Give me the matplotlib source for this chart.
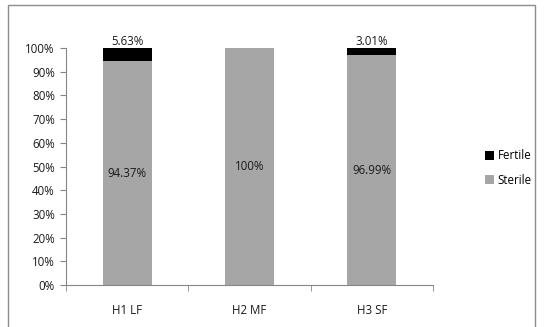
import matplotlib
matplotlib.use("Agg")
import matplotlib.pyplot as plt
from matplotlib.patches import Rectangle
from matplotlib.ticker import FixedLocator, PercentFormatter

categories = ["H1 LF", "H2 MF", "H3 SF"]
sterile = [94.37, 100.0, 96.99]
fertile = [5.63, 0.0, 3.01]
sterile_labels = ["94.37%", "100%", "96.99%"]
fertile_labels = ["5.63%", None, "3.01%"]

plt.rcParams['font.family'] = ['Open Sans', 'DejaVu Sans']
fs = 8.3

fig = plt.figure(figsize=(5.45, 3.27), dpi=100)
fig.patches.append(Rectangle((8/545, -0.05), (535-8)/545, 1.05 - 5/327, transform=fig.transFigure,
                             fill=False, edgecolor="#8c8c8c", linewidth=1.0))
ax = fig.add_axes([66/545, 42/327, (433-66)/545, (285-48)/327])

x = list(range(len(categories)))
width = 0.4
ax.bar(x, sterile, width=width, color="#a6a6a6", label="Sterile", zorder=2)
ax.bar(x, fertile, width=width, bottom=sterile, color="#000000", label="Fertile", zorder=2)

for i in x:
    ax.text(i, sterile[i] / 2, sterile_labels[i], ha="center", va="center", fontsize=fs, color="#1a1a1a")
    if fertile_labels[i]:
        ax.text(i, sterile[i] + fertile[i] + 0.2, fertile_labels[i], ha="center", va="bottom",
                fontsize=fs, color="#1a1a1a")

ax.set_xlim(-0.5, 2.5)
ax.set_ylim(0, 100)
ax.set_yticks(range(0, 101, 10))
ax.yaxis.set_major_formatter(PercentFormatter(decimals=0))
ax.set_xticks(x)
ax.set_xticklabels(categories)
ax.xaxis.set_minor_locator(FixedLocator([-0.5, 0.5, 1.5, 2.5]))
ax.tick_params(axis="x", which="major", length=0, pad=14, labelsize=fs, colors="#1a1a1a")
ax.tick_params(axis="x", which="minor", length=4, color="#868686")
ax.tick_params(axis="y", length=4, color="#868686", labelsize=fs, labelcolor="#1a1a1a", pad=4)
for s in ["top", "right"]:
    ax.spines[s].set_visible(False)
for s in ["left", "bottom"]:
    ax.spines[s].set_color("#868686")

handles, labels = ax.get_legend_handles_labels()
fig.legend(handles[::-1], labels[::-1], loc="center left", bbox_to_anchor=(485/545, 1 - 168/327),
           frameon=False, fontsize=fs, handlelength=0.8, handleheight=0.8, handletextpad=0.3,
           labelspacing=1.0, borderpad=0, borderaxespad=0)

fig.savefig("out.png", dpi=100)
